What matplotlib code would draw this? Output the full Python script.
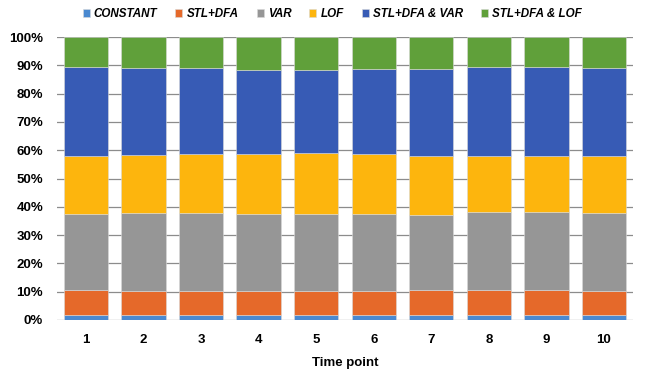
import numpy as np
import matplotlib.pyplot as plt
from matplotlib.ticker import FuncFormatter

time_points = ['1', '2', '3', '4', '5', '6', '7', '8', '9', '10']
series_names = ['CONSTANT', 'STL+DFA', 'VAR', 'LOF', 'STL+DFA & VAR', 'STL+DFA & LOF']

constant = [1.8, 1.8, 1.8, 1.8, 1.8, 1.8, 1.8, 1.8, 1.8, 1.8]
stl_dfa = [8.8, 8.3, 8.3, 8.3, 8.3, 8.3, 8.7, 8.9, 8.8, 8.4]
var = [27.0, 27.6, 27.6, 27.2, 27.3, 27.3, 26.5, 27.5, 27.5, 27.5]
lof = [20.2, 20.6, 20.8, 21.3, 21.6, 21.1, 20.8, 19.6, 19.9, 20.1]
stl_dfa_var = [31.5, 30.8, 30.5, 29.9, 29.4, 30.2, 31.1, 31.6, 31.4, 31.3]
stl_dfa_lof = [10.7, 10.9, 11.0, 11.5, 11.6, 11.3, 11.1, 10.6, 10.6, 10.9]

colors = ['#4A89D0', '#E5692A', '#969696', '#FDB50D', '#375BB5', '#60A03A']

plt.rcParams['font.family'] = ['Liberation Sans', 'DejaVu Sans']

fig = plt.figure(figsize=(6.49, 3.71), dpi=100)
ax = fig.add_axes([0.088, 0.1375, 0.887, 0.7625])

x = np.arange(1, len(time_points) + 1)
bottom = np.zeros(len(time_points))
for name, vals, c in zip(series_names, [constant, stl_dfa, var, lof, stl_dfa_var, stl_dfa_lof], colors):
    ax.bar(x, vals, 0.77, bottom=bottom, color=c, label=name,
           edgecolor='#d9d9d9', linewidth=0.4, zorder=2)
    bottom += np.array(vals)

ax.set_xlim(0.5, 10.5)
ax.set_ylim(0, 100)
ax.set_yticks(np.arange(0, 101, 10))
ax.yaxis.set_major_formatter(FuncFormatter(lambda v, p: '%d%%' % v))
ax.set_xticks(x)
ax.set_xticklabels(time_points)
ax.grid(axis='y', color='#8c8c8c', linewidth=0.9, zorder=0)
ax.set_axisbelow(True)
for s in ax.spines.values():
    s.set_visible(False)
ax.tick_params(length=0, labelsize=9.5)
ax.tick_params(axis='x', pad=10)
ax.tick_params(axis='y', pad=10)
for lab in ax.get_xticklabels() + ax.get_yticklabels():
    lab.set_fontweight('bold')
ax.set_xlabel('Time point', fontsize=9.5, fontweight='bold', labelpad=8)

fig.legend(loc='center', bbox_to_anchor=(0.512, 0.962), ncol=6, frameon=False,
           prop={'weight': 'bold', 'style': 'italic', 'size': 8.4},
           handlelength=0.6, handleheight=0.6, handletextpad=0.35, columnspacing=1.55,
           borderaxespad=0, borderpad=0)

fig.savefig('out.png', dpi=100)
